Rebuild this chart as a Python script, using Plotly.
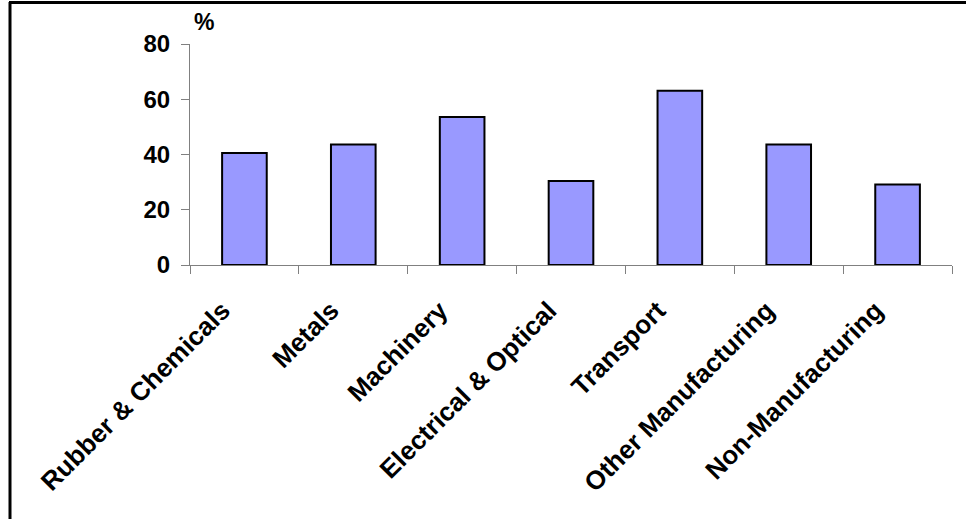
import plotly.graph_objects as go

categories = ["Rubber & Chemicals", "Metals", "Machinery", "Electrical & Optical",
              "Transport", "Other Manufacturing", "Non-Manufacturing"]
values = [40.5, 43.6, 53.6, 30.4, 63.1, 43.6, 29.1]
y_ticks = [0, 20, 40, 60, 80]

W, H = 966, 519
ML, MR, MT, MB = 190, 14, 44, 254
PW, PH = W - ML - MR, H - MT - MB

def px_x(p):
    return (p - ML) / PW

def px_y(p):
    return (H - MB - p) / PH

FONT = "Arial, Liberation Sans, sans-serif"

fig = go.Figure(go.Bar(
    x=categories, y=values,
    marker=dict(color="#9999FF", line=dict(color="black", width=2)),
))

fig.update_layout(
    width=W, height=H,
    margin=dict(l=ML, r=MR, t=MT, b=MB, pad=0),
    paper_bgcolor="white", plot_bgcolor="white",
    bargap=0.59,
    showlegend=False,
    font=dict(family=FONT, color="black"),
)

fig.update_yaxes(
    range=[0, 80], tickvals=y_ticks, ticks="outside", ticklen=8, tickwidth=1,
    tickcolor="#808080", showline=True, linecolor="#808080", linewidth=1,
    showgrid=False, zeroline=False,
    tickfont=dict(family=FONT, size=24, color="black", weight="bold"),
    ticklabelstandoff=6,
)
fig.update_xaxes(
    type="category", tickson="boundaries", ticks="outside", ticklen=8, tickwidth=1,
    tickcolor="#808080", showline=True, linecolor="#808080", linewidth=1,
    showgrid=False, zeroline=False, tickangle=-45,
    tickfont=dict(family=FONT, size=26, color="black", weight="bold"),
    ticklabelstandoff=19, ticklabelshift=-22,
)

fig.add_annotation(
    x=px_x(204), y=px_y(22), xref="paper", yref="paper",
    text="%", showarrow=False, xanchor="center", yanchor="middle",
    font=dict(family=FONT, size=23, color="black", weight="bold"),
)

# outer frame (left and top edges visible)
fig.add_shape(type="line", xref="paper", yref="paper",
              x0=px_x(10), x1=px_x(10), y0=px_y(2), y1=px_y(530),
              line=dict(color="black", width=3))
fig.add_shape(type="line", xref="paper", yref="paper",
              x0=px_x(9), x1=px_x(980), y0=px_y(2.5), y1=px_y(2.5),
              line=dict(color="black", width=3))

fig.write_html("out.html")
